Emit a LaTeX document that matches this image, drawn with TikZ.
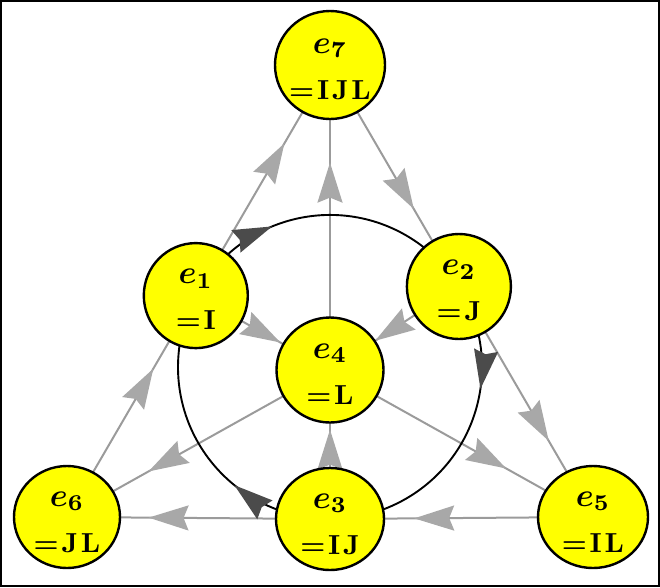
\documentclass[tikz,border=0pt]{standalone}
\usepackage{graphicx}
\usepackage{bm}
\usetikzlibrary{arrows.meta,decorations.markings,backgrounds,shapes.geometric}
\definecolor{nodey}{RGB}{255,255,0}
\definecolor{lgray}{RGB}{155,155,155}
\definecolor{agray}{RGB}{168,168,168}
\definecolor{dgray}{RGB}{75,75,75}
\newcommand{\emth}[1]{\scalebox{3.25}{$\bm{e}_{\bm{#1}}$}}
\newcommand{\eqlbl}[1]{\scalebox{2.8}[2.75]{\bfseries #1}}
\tikzset{
  vert/.style={ellipse, draw=black, line width=2.4pt, fill=nodey, inner sep=0pt},
  etext/.style={anchor=base, inner sep=0pt},
  ltext/.style={anchor=base, inner sep=0pt},
  gline/.style={draw=lgray, line width=2pt},
  garrow/.style={postaction={decorate}, decoration={markings,
     mark=at position #1 with {\arrow{Stealth[length=40pt,width=25pt,inset=5pt,color=agray]}}}},
  carc/.style={draw=black, line width=1.9pt, postaction={decorate}, decoration={markings,
     mark=at position 0.33 with {\arrow{Stealth[length=39pt,width=24pt,inset=4pt,color=dgray]}}}},
}
\begin{document}
\begin{tikzpicture}[x=1pt,y=1pt]
\useasboundingbox (0,0) rectangle (660,-587);
\draw[line width=2pt] (1,-1) rectangle (659,-586);
\coordinate (o) at (330,-367);
% nodes
\node[vert, minimum width=110pt, minimum height=108pt] (e7) at (330,-65) {};
\node[vert, minimum width=104pt, minimum height=105pt] (e1) at (195.8,-295.6) {};
\node[vert, minimum width=104pt, minimum height=105pt] (e2) at (458.9,-286.5) {};
\node[vert, minimum width=107pt, minimum height=105pt] (e4) at (330,-370) {};
\node[vert, minimum width=106pt, minimum height=102pt] (e6) at (67,-517) {};
\node[vert, minimum width=108pt, minimum height=102pt] (e3) at (330,-519) {};
\node[vert, minimum width=110pt, minimum height=102pt] (e5) at (593,-517) {};
% texts
\node[etext] (e7a) at ([yshift=12pt]e7.center) {\emth{7}};
\node[ltext] (e7b) at ([yshift=-34pt]e7.center) {\eqlbl{=\kern1pt I\kern1pt J\kern1pt L}};
\node[etext] (e1a) at ([yshift=12pt]e1.center) {\emth{1}};
\node[ltext] (e1b) at ([yshift=-34pt]e1.center) {\eqlbl{=\kern1pt I}};
\node[etext] (e2a) at ([yshift=12pt]e2.center) {\emth{2}};
\node[ltext] (e2b) at ([yshift=-34pt]e2.center) {\eqlbl{=\kern1pt J}};
\node[etext] (e4a) at ([yshift=12pt]e4.center) {\emth{4}};
\node[ltext] (e4b) at ([yshift=-34pt]e4.center) {\eqlbl{=\kern1pt L}};
\node[etext] (e6a) at ([yshift=11pt]e6.center) {\emth{6}};
\node[ltext] (e6b) at ([yshift=-35pt]e6.center) {\eqlbl{=\kern1pt J\kern1pt L}};
\node[etext] (e3a) at ([yshift=11pt]e3.center) {\emth{3}};
\node[ltext] (e3b) at ([yshift=-35pt]e3.center) {\eqlbl{=\kern1pt I\kern1pt J}};
\node[etext] (e5a) at ([yshift=11pt]e5.center) {\emth{5}};
\node[ltext] (e5b) at ([yshift=-35pt]e5.center) {\eqlbl{=\kern1pt I\kern1pt L}};
% connectors
\begin{scope}[on background layer]
\draw[gline, garrow=0.67] (e6.center) -- (e1.center);
\draw[gline, garrow=0.66] (e1.center) -- (e7.center);
\draw[gline, garrow=0.65] (e7.center) -- (e2.center);
\draw[gline, garrow=0.67] (e2.center) -- (e5.center);
\draw[gline, garrow=0.68] (e5.center) -- (e3.center);
\draw[gline, garrow=0.69] (e3.center) -- (e6.center);
\draw[gline, garrow=0.63] (e1.center) -- (e4.center);
\draw[gline, garrow=0.67] (e4.center) -- (e5.center);
\draw[gline, garrow=0.65] (e2.center) -- (e4.center);
\draw[gline, garrow=0.69] (e4.center) -- (e6.center);
\draw[gline, garrow=0.6] (e3.center) -- (e4.center);
\draw[gline, garrow=0.68] (e4.center) -- (e7.center);
\draw[carc] (e1.center) arc[start angle=152, end angle=32, radius=152];
\draw[carc] (e2.center) arc[start angle=32, end angle=-90, radius=152];
\draw[carc] (e3.center) arc[start angle=270, end angle=152, radius=152];
\end{scope}
\end{tikzpicture}
\end{document}
